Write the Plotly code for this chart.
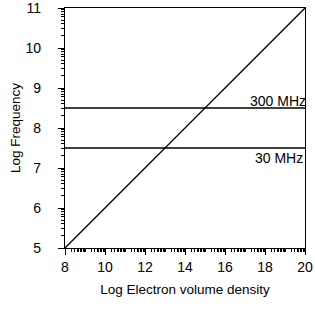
import math
import plotly.graph_objects as go

# data
density = [8, 20]
frequency = [5, 11]
band_levels = [8.5, 7.5]
band_labels = ["300 MHz", "30 MHz"]
x_ticks = [8, 10, 12, 14, 16, 18, 20]
y_ticks = [5, 6, 7, 8, 9, 10, 11]

def log_minor(lo, hi):
    vals = []
    for n in range(lo, hi):
        for k in range(2, 10):
            vals.append(n + math.log10(k))
    return vals

x_minor = log_minor(8, 20) + [v for v in range(9, 20, 2)]
y_minor = log_minor(5, 11)

fig = go.Figure()
fig.add_trace(go.Scatter(x=density, y=frequency, mode="lines",
                         line=dict(color="black", width=1.3), showlegend=False))
for lvl in band_levels:
    fig.add_trace(go.Scatter(x=[density[0], density[-1]], y=[lvl, lvl], mode="lines",
                             line=dict(color="black", width=1.3), showlegend=False))

fig.add_annotation(x=20, y=band_levels[0], xref="x", yref="y", text=band_labels[0],
                   showarrow=False, xanchor="right", yanchor="bottom",
                   font=dict(size=14, color="black"), xshift=3, yshift=-3)
fig.add_annotation(x=20, y=band_levels[1], xref="x", yref="y", text=band_labels[1],
                   showarrow=False, xanchor="right", yanchor="top",
                   font=dict(size=14, color="black"), xshift=0, yshift=0)

axis_common = dict(showgrid=False, zeroline=False, showline=True, linecolor="black",
                   linewidth=1.3, mirror=True, ticks="outside", ticklen=6,
                   tickwidth=1, tickcolor="black", ticklabeloverflow="allow",
                   tickfont=dict(size=14, color="black"))

fig.update_xaxes(range=[8, 20], tickmode="array", tickvals=x_ticks,
                 title=dict(text="Log Electron volume density", font=dict(size=13.5, color="black"), standoff=10),
                 minor=dict(tickmode="array", tickvals=x_minor, ticklen=3, ticks="outside",
                            tickcolor="black", tickwidth=1, showgrid=False),
                 **axis_common)
fig.update_yaxes(range=[5, 11], tickmode="array", tickvals=y_ticks, ticklabelstandoff=14,
                 title=dict(text="Log Frequency", font=dict(size=13.5, color="black"), standoff=1),
                 minor=dict(tickmode="array", tickvals=y_minor, ticklen=3, ticks="outside",
                            tickcolor="black", tickwidth=1, showgrid=False),
                 **axis_common)

fig.update_layout(width=315, height=328, margin=dict(l=65, r=10, t=8, b=80, autoexpand=False),
                  paper_bgcolor="white", plot_bgcolor="white",
                  font=dict(family="Liberation Sans, Arial, sans-serif", color="black"))

fig.write_html("out.html", config={"displayModeBar": False},
               post_script="document.body.style.margin='0';")
